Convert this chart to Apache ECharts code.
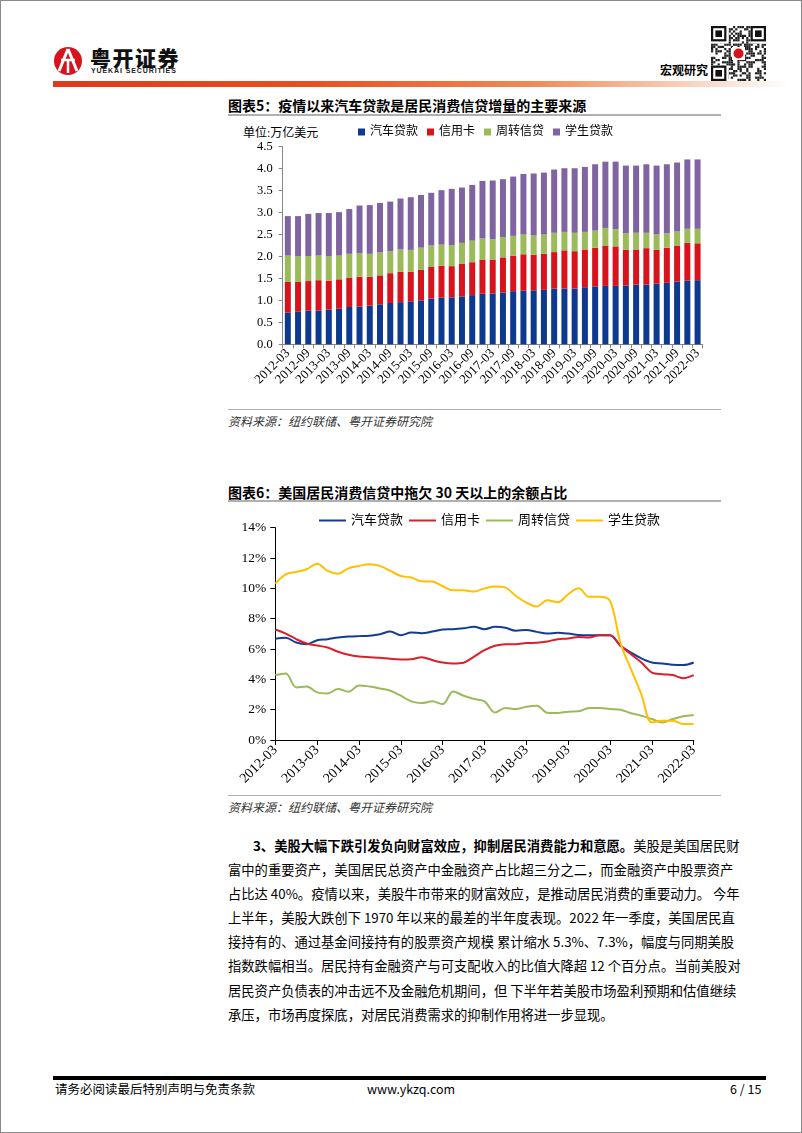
<!DOCTYPE html>
<html><head><meta charset="utf-8">
<script src="https://cdn.jsdelivr.net/npm/echarts@6/dist/echarts.min.js"></script>
<style>
html,body{margin:0;padding:0;background:#fff;}
#page{position:relative;width:802px;height:1133px;box-sizing:border-box;border:1px solid #8a8a8a;overflow:hidden;font-family:"Noto Sans CJK SC","Noto Sans",sans-serif;color:#000;}
.abs{position:absolute;white-space:nowrap;}
.title{font-size:14px;font-weight:bold;line-height:18px;}
.rule{position:absolute;background:#b0b0b0;}
.src{font-size:12px;font-style:italic;color:#333;line-height:16px;}
#para{position:absolute;left:227px;top:833px;width:483px;font-size:13.3px;line-height:24.1px;color:#000;}
#para div{text-align:justify;text-align-last:justify;white-space:nowrap;}
#para div.last{text-align-last:left;}
.foot{font-size:12.5px;line-height:16px;color:#000;}
</style></head>
<body><div id="page">
<!-- header -->
<svg class="abs" style="left:52px;top:44px" width="32" height="32" viewBox="0 0 32 32">
  <circle cx="15" cy="16" r="14" fill="#d7141d"/>
  <path d="M15 4 L6 26 M15 4 L24 26" stroke="#fff" stroke-width="3" fill="none"/>
  <path d="M8 15 H22" stroke="#fff" stroke-width="2.5"/>
  <path d="M15 15 V28" stroke="#fff" stroke-width="2.5"/>
</svg>
<div class="abs" style="left:89px;top:44px;font-size:21px;font-weight:900;letter-spacing:1.5px;line-height:24px;color:#111;">粤开证券</div>
<div class="abs" style="left:90px;top:66px;font-size:7px;font-weight:bold;letter-spacing:0.9px;line-height:8px;color:#222;font-family:'Liberation Sans',sans-serif;">YUEKAI SECURITIES</div>
<div class="abs" style="left:659px;top:62px;font-size:12px;font-weight:bold;line-height:14px;">宏观研究</div>
<canvas id="qr" class="abs" style="left:710px;top:25px" width="55" height="55"></canvas>
<div class="abs" style="left:52px;top:80px;width:736px;height:6px;background:linear-gradient(to right,#e0381b 0%,#e8501f 35%,#f08a55 65%,#f8cdb8 85%,#ffffff 100%);"></div>

<!-- chart 5 -->
<div class="abs title" style="left:227px;top:95px;">图表5：疫情以来汽车贷款是居民消费信贷增量的主要来源</div>
<div class="rule" style="left:227px;top:113px;width:493px;height:2px;"></div>
<div class="abs" style="left:242px;top:124px;font-size:12px;line-height:16px;font-family:'Liberation Serif','Noto Sans CJK SC',serif;">单位:万亿美元</div>
<div id="c1" class="abs" style="left:227px;top:118px;width:500px;height:290px;"></div>
<div class="rule" style="left:227px;top:408px;width:493px;height:1px;"></div>
<div class="abs src" style="left:227px;top:412px;">资料来源：纽约联储、粤开证券研究院</div>

<!-- chart 6 -->
<div class="abs title" style="left:227px;top:482px;">图表6：美国居民消费信贷中拖欠 30 天以上的余额占比</div>
<div class="rule" style="left:227px;top:499px;width:493px;height:2px;"></div>
<div id="c2" class="abs" style="left:227px;top:503px;width:500px;height:290px;"></div>
<div class="rule" style="left:227px;top:794px;width:493px;height:1px;"></div>
<div class="abs src" style="left:227px;top:798px;">资料来源：纽约联储、粤开证券研究院</div>

<!-- paragraph -->
<div id="para">
<div style="text-indent:25px;"><b>3、美股大幅下跌引发负向财富效应，抑制居民消费能力和意愿。</b>美股是美国居民财</div>
<div>富中的重要资产，美国居民总资产中金融资产占比超三分之二，而金融资产中股票资产</div>
<div>占比达 40%。疫情以来，美股牛市带来的财富效应，是推动居民消费的重要动力。 今年</div>
<div>上半年，美股大跌创下 1970 年以来的最差的半年度表现。2022 年一季度，美国居民直</div>
<div>接持有的、通过基金间接持有的股票资产规模 累计缩水 5.3%、7.3%，幅度与同期美股</div>
<div>指数跌幅相当。居民持有金融资产与可支配收入的比值大降超 12 个百分点。当前美股对</div>
<div>居民资产负债表的冲击远不及金融危机期间，但 下半年若美股市场盈利预期和估值继续</div>
<div class="last">承压，市场再度探底，对居民消费需求的抑制作用将进一步显现。</div>
</div>

<!-- footer -->
<div class="abs" style="left:52px;top:1075px;width:713px;height:4px;background:#000;"></div>
<div class="abs foot" style="left:54px;top:1080px;">请务必阅读最后特别声明与免责条款</div>
<div class="abs foot" style="left:366px;top:1080px;">www.ykzq.com</div>
<div class="abs foot" style="left:729px;top:1080px;">6 / 15</div>
</div>
<script>
// ---------- data ----------
var categories = ["2012-03","2012-06","2012-09","2012-12","2013-03","2013-06","2013-09","2013-12",
"2014-03","2014-06","2014-09","2014-12","2015-03","2015-06","2015-09","2015-12",
"2016-03","2016-06","2016-09","2016-12","2017-03","2017-06","2017-09","2017-12",
"2018-03","2018-06","2018-09","2018-12","2019-03","2019-06","2019-09","2019-12",
"2020-03","2020-06","2020-09","2020-12","2021-03","2021-06","2021-09","2021-12","2022-03"];
var seriesNames = ["汽车贷款","信用卡","周转信贷","学生贷款"];
// chart 5: balances, trillion USD
var autoLoan = [0.72,0.74,0.77,0.77,0.79,0.81,0.85,0.86,0.88,0.91,0.94,0.96,0.98,1.00,1.04,1.06,1.07,1.09,1.12,1.15,1.16,1.18,1.21,1.22,1.23,1.24,1.27,1.27,1.27,1.30,1.32,1.33,1.33,1.34,1.36,1.36,1.38,1.40,1.43,1.45,1.46];
var creditCard = [0.70,0.68,0.67,0.69,0.66,0.67,0.67,0.68,0.66,0.66,0.68,0.69,0.67,0.70,0.72,0.73,0.71,0.74,0.75,0.78,0.77,0.80,0.81,0.83,0.81,0.82,0.83,0.87,0.85,0.86,0.88,0.92,0.90,0.81,0.80,0.83,0.77,0.80,0.82,0.86,0.84];
var revolving = [0.60,0.58,0.57,0.56,0.55,0.54,0.54,0.53,0.52,0.52,0.50,0.51,0.50,0.50,0.49,0.48,0.48,0.48,0.49,0.48,0.46,0.46,0.45,0.45,0.44,0.44,0.44,0.42,0.42,0.40,0.39,0.40,0.39,0.38,0.38,0.35,0.35,0.33,0.32,0.32,0.33];
var studentLoan = [0.90,0.92,0.96,0.97,0.99,0.99,1.02,1.09,1.11,1.13,1.13,1.16,1.20,1.20,1.20,1.24,1.28,1.26,1.27,1.31,1.34,1.32,1.35,1.38,1.41,1.41,1.44,1.45,1.47,1.48,1.51,1.51,1.54,1.54,1.53,1.56,1.57,1.57,1.57,1.58,1.58];
// chart 6: share of balance 30+ days delinquent, %
var autoDelinq = [6.67,6.74,6.43,6.32,6.58,6.65,6.76,6.82,6.85,6.87,6.98,7.15,6.91,7.09,7.04,7.15,7.29,7.31,7.37,7.46,7.31,7.46,7.40,7.20,7.26,7.13,7.02,7.07,7.02,6.93,6.91,6.91,6.91,6.21,5.77,5.38,5.11,5.05,4.96,4.94,5.11];
var ccDelinq = [7.29,7.02,6.65,6.36,6.23,6.10,5.82,5.62,5.51,5.46,5.42,5.35,5.31,5.33,5.46,5.27,5.11,5.05,5.10,5.50,5.92,6.21,6.32,6.32,6.39,6.41,6.50,6.65,6.69,6.80,6.76,6.91,6.91,6.21,5.66,5.11,4.45,4.34,4.28,4.08,4.28];
var revDelinq = [4.28,4.39,3.47,3.53,3.14,3.07,3.36,3.18,3.60,3.53,3.40,3.25,2.92,2.55,2.44,2.55,2.37,3.20,2.92,2.70,2.55,1.82,2.11,2.04,2.19,2.26,1.80,1.78,1.87,1.89,2.11,2.11,2.04,2.00,1.76,1.60,1.38,1.16,1.38,1.56,1.65];
var studentDelinq = [10.31,10.93,11.08,11.26,11.63,11.15,10.97,11.32,11.48,11.59,11.48,11.15,10.82,10.71,10.47,10.45,10.14,9.87,9.87,9.79,10.00,10.12,10.05,9.50,9.06,8.80,9.22,9.08,9.61,10.00,9.44,9.44,9.17,6.40,4.67,3.00,1.16,1.27,1.27,1.05,1.05];
var yTicks1 = [0,4.5,0.5];   // min, max, interval
var yTicks2 = [0,14,2];

// ---------- decorative QR-like mark ----------
(function(){
  var c=document.getElementById('qr').getContext('2d');
  var n=25,s=55/n; c.fillStyle='#fff';c.fillRect(0,0,55,55);
  var h=7;
  for(var i=0;i<n;i++)for(var j=0;j<n;j++){h=(h*1103515245+12345)&0x7fffffff; if((h>>16)&1){c.fillStyle='#222';c.fillRect(i*s,j*s,s,s);}}
  function finder(x,y){c.fillStyle='#fff';c.fillRect(x*s,y*s,8*s,8*s);c.fillStyle='#111';c.fillRect(x*s,y*s,7*s,7*s);c.fillStyle='#fff';c.fillRect((x+1)*s,(y+1)*s,5*s,5*s);c.fillStyle='#111';c.fillRect((x+2)*s,(y+2)*s,3*s,3*s);}
  finder(0,0);finder(18,0);finder(0,18);
  c.fillStyle='#fff';c.fillRect(21,21,13,13);c.fillStyle='#d7141d';c.beginPath();c.arc(27.5,27.5,5,0,7);c.fill();
})();

var serif = "'Liberation Serif','Times New Roman','Noto Sans CJK SC',serif";

// ---------- chart 5 ----------
var c1 = echarts.init(document.getElementById('c1'), null, {renderer:'canvas'});
var barColors = ['#0d3a8e','#d7141d','#9bbb59','#8064a2'];
var barData = [autoLoan, creditCard, revolving, studentLoan];
c1.setOption({
  animation:false,
  color: barColors,
  legend:{left:130, top:7, padding:0, itemWidth:7, itemHeight:7, itemGap:9, icon:'rect',
    textStyle:{fontFamily:serif, fontSize:12, color:'#000'}, data:seriesNames},
  grid:{left:54.7, top:27.7, width:420, height:197.6},
  xAxis:{type:'category', data:categories,
    axisLine:{lineStyle:{color:'#868686'}},
    axisTick:{show:true, interval:0, length:4, lineStyle:{color:'#868686'}},
    axisLabel:{interval:1, rotate:45, margin:7, fontFamily:serif, fontSize:13, color:'#000'}},
  yAxis:{type:'value', min:yTicks1[0], max:yTicks1[1], interval:yTicks1[2],
    axisLine:{show:true, lineStyle:{color:'#868686'}},
    axisTick:{show:true, length:4, lineStyle:{color:'#868686'}},
    splitLine:{show:false},
    axisLabel:{margin:10, fontFamily:serif, fontSize:12.5, color:'#000', formatter:function(v){return v.toFixed(1);}}},
  series: seriesNames.map(function(n,i){return {name:n, type:'bar', stack:'total', data:barData[i], barWidth:6};})
});

// ---------- chart 6 ----------
var c2 = echarts.init(document.getElementById('c2'), null, {renderer:'canvas'});
var lineColors = ['#143c92','#db1f2b','#9bbb59','#ffc000'];
var lineData = [autoDelinq, ccDelinq, revDelinq, studentDelinq];
c2.setOption({
  animation:false,
  color: lineColors,
  legend:{left:91, top:10, padding:0, itemWidth:27, itemHeight:2, itemGap:6, icon:'rect',
    textStyle:{fontFamily:serif, fontSize:13, color:'#000'}, data:seriesNames},
  grid:{left:47.3, top:23.7, width:418.4, height:212.3},
  xAxis:{type:'category', data:categories, boundaryGap:false,
    axisLine:{lineStyle:{color:'#000'}},
    axisTick:{show:true, interval:3, length:5, lineStyle:{color:'#000'}},
    axisLabel:{interval:3, rotate:45, margin:8, fontFamily:serif, fontSize:14, color:'#000'}},
  yAxis:{type:'value', min:yTicks2[0], max:yTicks2[1], interval:yTicks2[2],
    axisLine:{show:true, lineStyle:{color:'#000'}},
    axisTick:{show:true, length:5, lineStyle:{color:'#000'}},
    splitLine:{show:false},
    axisLabel:{margin:9, fontFamily:serif, fontSize:13.5, color:'#000', formatter:'{value}%'}},
  series: seriesNames.map(function(n,i){return {name:n, type:'line', data:lineData[i], smooth:0.35, showSymbol:false, symbol:'none', lineStyle:{width:2}};})
});
</script>
</body></html>
